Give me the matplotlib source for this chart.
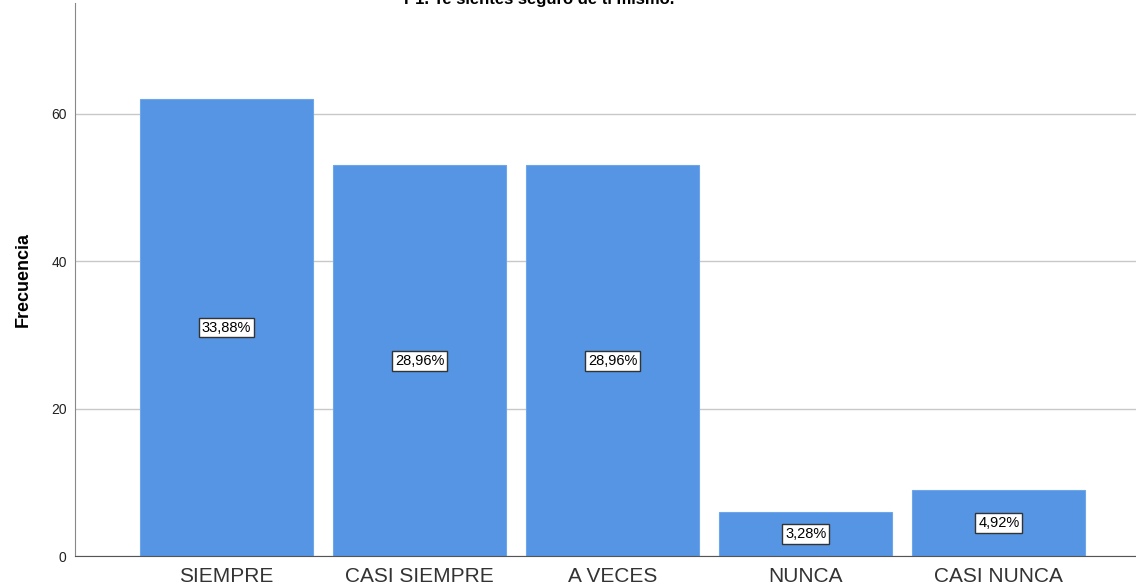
import numpy as np
import matplotlib.pyplot as plt

plt.rcParams['font.family'] = ['Liberation Sans', 'DejaVu Sans']

categorias = ["SIEMPRE", "CASI SIEMPRE", "A VECES", "NUNCA", "CASI NUNCA"]
frecuencia = [62, 53, 53, 6, 9]
porcentajes = ["33,88%", "28,96%", "28,96%", "3,28%", "4,92%"]
titulo = "P1. Te sientes seguro de ti mismo."

fig = plt.figure(figsize=(11.36, 5.88), dpi=100)
ax = fig.add_axes([0.066, 0.0544, 0.934, 0.94])

x = np.arange(len(categorias))
ax.bar(x, frecuencia, width=0.896, color='#5595e3', edgecolor='#6ea6ea', linewidth=0.8, zorder=2)

for xi, v, p in zip(x, frecuencia, porcentajes):
    ax.text(xi, v / 2, p, ha='center', va='center', fontsize=10.5, color='black', zorder=3,
            bbox=dict(boxstyle='square,pad=0.2', fc='white', ec='#333333', lw=1))

ax.set_xlim(-0.785, 4.71)
ax.set_ylim(0, 75)
ax.set_yticks([0, 20, 40, 60])
ax.set_xticks(x)
ax.set_xticklabels(categorias, fontsize=15, color='#333333')
ax.tick_params(axis='y', length=0, labelsize=10, pad=6, colors='#222222')
ax.tick_params(axis='x', length=0, pad=8)
ax.yaxis.grid(True, color='#c8c8c8', lw=1, zorder=0)
ax.set_axisbelow(True)
for s in ['top', 'right']:
    ax.spines[s].set_visible(False)
ax.spines['left'].set_color('#888888')
ax.spines['bottom'].set_color('#555555')
ax.set_ylabel("Frecuencia", fontsize=13, fontweight='bold', labelpad=14)

fig.text(0.475, (588 - 4) / 588, titulo, ha='center', va='baseline', fontsize=12, fontweight='bold')

fig.savefig("out.png", dpi=100)
